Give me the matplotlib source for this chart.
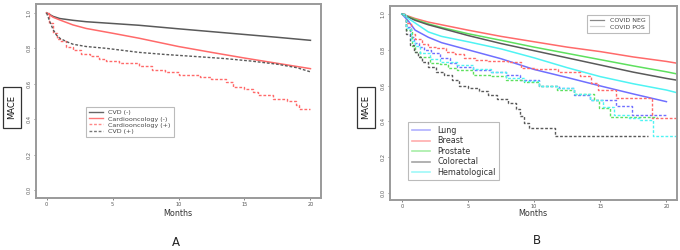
import numpy as np
import matplotlib
matplotlib.use("Agg")
import matplotlib.pyplot as plt
from matplotlib.patches import Rectangle
from matplotlib.lines import Line2D

# ---------------- Panel A data ----------------
a_t_smooth = [0, 0.5, 1, 2, 3, 5, 7, 10, 12.5, 15, 17.5, 20]
cvd_neg = [1.0, 0.98, 0.968, 0.958, 0.95, 0.94, 0.93, 0.91, 0.894, 0.878, 0.862, 0.845]
cardio_neg = [1.0, 0.975, 0.96, 0.932, 0.912, 0.885, 0.857, 0.81, 0.777, 0.745, 0.715, 0.685]

cvd_pos_t = [0, 0.25, 0.5, 0.75, 1.0, 1.5, 2.0, 3.0, 4.5, 7.0, 9.0, 11.6, 13.5, 15.5, 17.5, 19.0, 20.0]
cvd_pos = [1.0, 0.95, 0.905, 0.875, 0.857, 0.838, 0.823, 0.81, 0.80, 0.777, 0.765, 0.752, 0.742, 0.728, 0.71, 0.69, 0.667]

cardio_pos_t = [0, 0.2, 0.5, 0.8, 1.0, 1.5, 2.0, 2.6, 3.3, 4.0, 4.5, 5.5, 7.0, 8.0, 9.0, 10.0,
                11.6, 12.5, 13.6, 14.1, 15.0, 15.65, 16.0, 17.2, 18.2, 18.9, 19.1, 20.0]
cardio_pos = [1.0, 0.94, 0.885, 0.855, 0.84, 0.81, 0.79, 0.77, 0.754, 0.74, 0.729, 0.715, 0.698, 0.68, 0.665, 0.65,
              0.636, 0.625, 0.61, 0.58, 0.57, 0.554, 0.536, 0.512, 0.50, 0.48, 0.457, 0.457]

# ---------------- Panel B data ----------------
b_t_smooth = [0, 0.5, 1, 2, 3, 5, 7.5, 10, 12.5, 15, 17.5, 20, 20.8]
lung_neg = [1.0, 0.96, 0.91, 0.87, 0.84, 0.80, 0.75, 0.69, 0.645, 0.598, 0.553, 0.51, None]
breast_neg = [1.0, 0.988, 0.975, 0.955, 0.94, 0.91, 0.875, 0.845, 0.815, 0.79, 0.76, 0.735, 0.725]
prostate_neg = [1.0, 0.985, 0.97, 0.945, 0.925, 0.89, 0.853, 0.815, 0.78, 0.745, 0.71, 0.677, 0.665]
colorectal_neg = [1.0, 0.982, 0.965, 0.94, 0.92, 0.88, 0.835, 0.795, 0.755, 0.715, 0.675, 0.64, 0.63]
hemat_neg = [1.0, 0.975, 0.95, 0.90, 0.875, 0.845, 0.805, 0.755, 0.70, 0.65, 0.61, 0.575, 0.56]

lung_pos_t = [0, 0.3, 0.6, 0.9, 1.3, 1.7, 2.2, 2.9, 3.6, 4.2, 5.4, 6.7, 7.9, 8.9, 10.4, 11.9, 13.0, 14.2, 16.2, 17.4, 20.0]
lung_pos = [1.0, 0.93, 0.87, 0.836, 0.815, 0.80, 0.78, 0.752, 0.725, 0.705, 0.686, 0.675, 0.66, 0.63, 0.60, 0.585, 0.547, 0.522, 0.485, 0.435, 0.435]

breast_pos_t = [0, 0.3, 0.7, 1.0, 1.5, 2.0, 2.6, 3.3, 4.0, 4.7, 5.5, 6.5, 8.0, 9.0, 10.0, 11.8, 13.5, 14.3, 14.8, 16.2, 18.9, 20.8]
breast_pos = [1.0, 0.95, 0.89, 0.86, 0.83, 0.815, 0.81, 0.79, 0.775, 0.755, 0.745, 0.735, 0.73, 0.70, 0.69, 0.675, 0.653, 0.615, 0.578, 0.528, 0.42, 0.42]

prostate_pos_t = [0, 0.3, 0.75, 1.0, 1.4, 2.1, 2.9, 3.5, 4.2, 5.4, 6.7, 7.9, 9.2, 10.4, 11.7, 13.0, 14.5, 14.9, 15.7, 19.3]
prostate_pos = [1.0, 0.91, 0.82, 0.79, 0.76, 0.725, 0.72, 0.70, 0.688, 0.66, 0.655, 0.63, 0.62, 0.597, 0.578, 0.555, 0.52, 0.472, 0.425, 0.425]

colorectal_pos_t = [0, 0.3, 0.6, 0.9, 1.2, 1.5, 2.0, 2.6, 3.2, 3.8, 4.3, 5.0, 5.8, 6.5, 7.2, 8.0, 8.6, 8.9, 9.2, 9.6, 11.6, 18.6]
colorectal_pos = [1.0, 0.89, 0.827, 0.79, 0.76, 0.733, 0.705, 0.677, 0.66, 0.63, 0.60, 0.585, 0.57, 0.55, 0.525, 0.505, 0.47, 0.43, 0.39, 0.365, 0.32, 0.32]

hemat_pos_t = [0, 0.3, 0.7, 1.0, 1.4, 2.1, 2.9, 4.2, 5.4, 6.7, 7.9, 9.2, 10.4, 11.7, 13.0, 14.2, 15.2, 16.0, 17.2, 18.0, 19.0, 20.8]
hemat_pos = [1.0, 0.92, 0.85, 0.82, 0.78, 0.75, 0.73, 0.715, 0.695, 0.675, 0.64, 0.625, 0.60, 0.585, 0.555, 0.52, 0.48, 0.435, 0.42, 0.405, 0.317, 0.317]

cancer_names = ["Lung", "Breast", "Prostate", "Colorectal", "Hematological"]
legend_a_labels = ["CVD (-)", "Cardiooncology (-)", "Cardiooncology (+)", "CVD (+)"]
covid_labels = ["COVID NEG", "COVID POS"]
x_ticks = [0, 5, 10, 15, 20]
y_ticks = [0.0, 0.2, 0.4, 0.6, 0.8, 1.0]

# ---------------- styling ----------------
GRAY = "#5a5a5a"
RED = "#ff6a6a"
BLUE = "#6f6fff"
GREEN = "#5ee05e"
CYAN = "#4ff3f3"
DASH = (0, (2.0, 1.3))
W, H = 680, 250

fig = plt.figure(figsize=(6.8, 2.5), dpi=100)


def make_axes(x0, y0, x1, y1, xlim, ylim):
    ax = fig.add_axes([x0 / W, 1 - y1 / H, (x1 - x0) / W, (y1 - y0) / H])
    ax.set_xlim(*xlim)
    ax.set_ylim(*ylim)
    for s in ax.spines.values():
        s.set_color("#9a9a9a")
        s.set_linewidth(1.4)
    ax.set_xticks(x_ticks)
    ax.set_yticks(y_ticks)
    ax.set_xticklabels([str(v) for v in x_ticks])
    ax.set_yticklabels([f"{v:.1f}" for v in y_ticks], rotation=90, va="center")
    ax.tick_params(labelsize=3.6, colors="#555555", length=1.5, width=0.5, pad=1.5)
    return ax


def steps(ax, t, v, color):
    ax.plot(t, v, drawstyle="steps-post", color=color, lw=1.0, linestyle=DASH)


# ---------------- Panel A ----------------
axA = make_axes(36, 4, 321, 198, (-0.8, 20.8), (-0.045, 1.05))
axA.plot(a_t_smooth, cvd_neg, color=GRAY, lw=1.1)
axA.plot(a_t_smooth, cardio_neg, color=RED, lw=1.1)
axA.plot(cardio_pos_t, cardio_pos, color=RED, lw=1.0, linestyle=DASH, drawstyle="steps-post")
axA.plot(cvd_pos_t, cvd_pos, color=GRAY, lw=1.0, linestyle=DASH)

hA = [Line2D([], [], color="#666666", lw=1.0),
      Line2D([], [], color="#ff7777", lw=1.0),
      Line2D([], [], color="#ff8888", lw=1.0, linestyle=DASH),
      Line2D([], [], color="#777777", lw=1.0, linestyle=DASH)]
legA = axA.legend(hA, legend_a_labels, loc="upper left", bbox_to_anchor=(0.175, 0.47),
                  borderaxespad=0, fontsize=4.6, frameon=True, fancybox=False,
                  handlelength=2.2, labelspacing=0.1, borderpad=0.5, handletextpad=0.8)
legA.get_frame().set_edgecolor("#aaaaaa")
legA.get_frame().set_linewidth(0.8)
for tx in legA.get_texts():
    tx.set_color("#444444")

# ---------------- Panel B ----------------
axB = make_axes(390, 6, 677, 200, (-0.9, 20.8), (-0.04, 1.045))
colors = [BLUE, RED, GREEN, GRAY, CYAN]
neg_series = [lung_neg, breast_neg, prostate_neg, colorectal_neg, hemat_neg]
pos_series = [(lung_pos_t, lung_pos), (breast_pos_t, breast_pos), (prostate_pos_t, prostate_pos),
              (colorectal_pos_t, colorectal_pos), (hemat_pos_t, hemat_pos)]
for c, v in zip(colors, neg_series):
    tt = [t for t, y in zip(b_t_smooth, v) if y is not None]
    vv = [y for y in v if y is not None]
    axB.plot(tt, vv, color=c, lw=1.1)
for c, (t, v) in zip(colors, pos_series):
    steps(axB, t, v, c)

hB = [Line2D([], [], color=c, lw=1.2, alpha=0.55) for c in colors]
legB = axB.legend(hB, cancer_names, loc="upper left", bbox_to_anchor=(0.063, 0.40),
                  borderaxespad=0, fontsize=5.8, frameon=True, fancybox=False,
                  handlelength=2.3, labelspacing=0.18, borderpad=0.45, handletextpad=0.9)
legB.get_frame().set_edgecolor("#aaaaaa")
legB.get_frame().set_linewidth(0.8)
for tx in legB.get_texts():
    tx.set_color("#333333")
axB.add_artist(legB)

hC = [Line2D([], [], color="#888888", lw=0.9), Line2D([], [], color="#d0d0d0", lw=0.9)]
legC = axB.legend(hC, covid_labels, loc="upper left", bbox_to_anchor=(0.686, 0.955),
                  borderaxespad=0, fontsize=4.5, frameon=True, fancybox=False,
                  handlelength=2.3, labelspacing=0.15, borderpad=0.5, handletextpad=0.9)
legC.get_frame().set_edgecolor("#aaaaaa")
legC.get_frame().set_linewidth(0.8)
for tx in legC.get_texts():
    tx.set_color("#444444")

# ---------------- labels ----------------
for (bx, by, bw, bh) in [(3, 87, 18, 41), (357, 87, 18, 41)]:
    fig.add_artist(Rectangle((bx / W, 1 - (by + bh) / H), bw / W, bh / H,
                             transform=fig.transFigure, fill=False,
                             edgecolor="#333333", lw=0.9))
    fig.text((bx + bw / 2) / W, 1 - (by + bh / 2) / H, "MACE", rotation=90,
             ha="center", va="center", fontsize=6, color="#111111")

fig.text(178 / W, 1 - 214 / H, "Months", ha="center", va="center", fontsize=5.8, color="#333333")
fig.text(533 / W, 1 - 214 / H, "Months", ha="center", va="center", fontsize=5.8, color="#333333")
fig.text(176 / W, 1 - 243 / H, "A", ha="center", va="center", fontsize=8.5, color="#222222")
fig.text(537 / W, 1 - 240 / H, "B", ha="center", va="center", fontsize=8.5, color="#222222")

fig.savefig("out.png", dpi=100)
